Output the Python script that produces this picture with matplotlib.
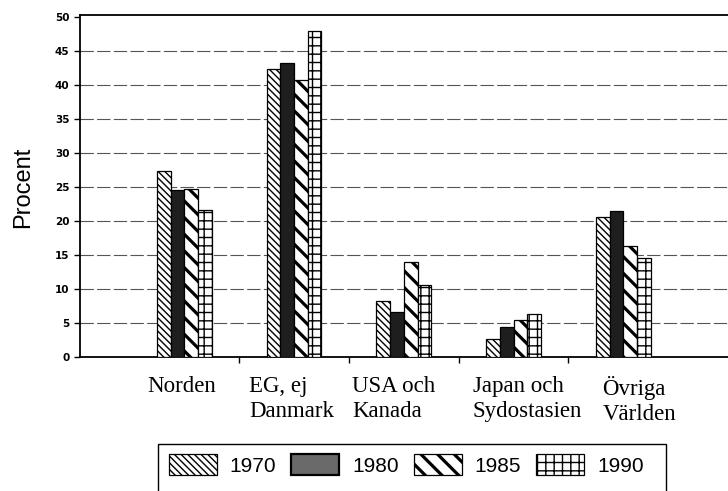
import numpy as np
import matplotlib
matplotlib.use("Agg")
import matplotlib.pyplot as plt
from matplotlib.patches import Patch, Rectangle

regions = ["Norden", "EG, ej\nDanmark", "USA och\nKanada", "Japan och\nSydostasien", "Övriga\nVärlden"]
years = ["1970", "1980", "1985", "1990"]
v1970 = [27.3, 42.4, 8.2, 2.6, 20.6]
v1980 = [24.5, 43.2, 6.6, 4.4, 21.5]
v1985 = [24.7, 40.8, 13.9, 5.4, 16.3]
v1990 = [21.6, 48.0, 10.6, 6.3, 14.5]
values = [v1970, v1980, v1985, v1990]

# where each category label starts, relative to the group centre
label_dx = [-0.34, -0.41, -0.47, -0.37, -0.19]

styles = [
    dict(facecolor="white", hatch="\\\\\\\\\\", hlw=1.0),
    dict(facecolor="#1e1e1e", hatch=None, hlw=1.0),
    dict(facecolor="white", hatch="\\\\", hlw=2.3),
    dict(facecolor="white", hatch="++", hlw=1.0),
]

fig = plt.figure(figsize=(7.28, 4.91), dpi=100)
ax = fig.add_axes([80 / 728, 1 - 357 / 491, 1 - 80 / 728 + 0.01, (357 - 15) / 491])

x = np.arange(len(regions))
w = 0.125
for i, (vals, st) in enumerate(zip(values, styles)):
    bars = ax.bar(x + (i - 1.5) * w, vals, w, color=st["facecolor"], edgecolor="black",
                  linewidth=0.9, hatch=st["hatch"], zorder=3)
    for b in bars:
        b.set_hatch_linewidth(st["hlw"])

ax.set_xlim(-0.95, 5.02)
ax.set_ylim(0, 50.3)
ax.set_yticks(range(0, 51, 5))
ax.set_yticklabels([str(t) for t in range(0, 51, 5)], fontsize=7.5, fontweight="bold",
                   family="DejaVu Sans")
for yv in range(5, 50, 5):
    ax.axhline(yv, color="#555555", lw=0.8, ls=(0, (12, 3)), zorder=1)
ax.set_xticks([0.5, 1.5, 2.5, 3.5])
ax.set_xticklabels([])
ax.tick_params(axis="both", direction="out", length=4, width=1.0, color="black")
ax.spines["right"].set_visible(False)
for s in ["left", "bottom", "top"]:
    ax.spines[s].set_linewidth(1.3)

fig.text(23 / 728, 1 - 187 / 491, "Procent", rotation=90, ha="center", va="center",
         family="Liberation Sans", fontsize=17)

for xi, dx, lab in zip(x, label_dx, regions):
    ax.text(xi + dx, -2.85, lab, ha="left", va="top", family="Liberation Serif",
            fontsize=16.5, linespacing=1.2, transform=ax.transData)

# legend box, running off the bottom edge
fig.patches.append(Rectangle((158 / 728, -0.05), (666 - 158) / 728, 0.05 + 1 - 444 / 491,
                             transform=fig.transFigure, fill=False, edgecolor="black", lw=1.0))
handles = [Patch(facecolor=st["facecolor"], edgecolor="black", hatch=st["hatch"], lw=0.9)
           for st in styles]
handles[1] = Patch(facecolor="#6a6a6a", edgecolor="black", lw=1.6)
leg = fig.legend(handles, years, loc="center left", bbox_to_anchor=(169 / 728, 1 - 465 / 491),
                 ncol=4, frameon=False, borderpad=0, borderaxespad=0,
                 handlelength=2.3, handleheight=1.15, handletextpad=0.62,
                 columnspacing=0.72, prop={"family": "Liberation Sans", "size": 15})
for p, st in zip(leg.get_patches(), styles):
    p.set_hatch_linewidth(st["hlw"])

fig.savefig("out.png", dpi=100)
